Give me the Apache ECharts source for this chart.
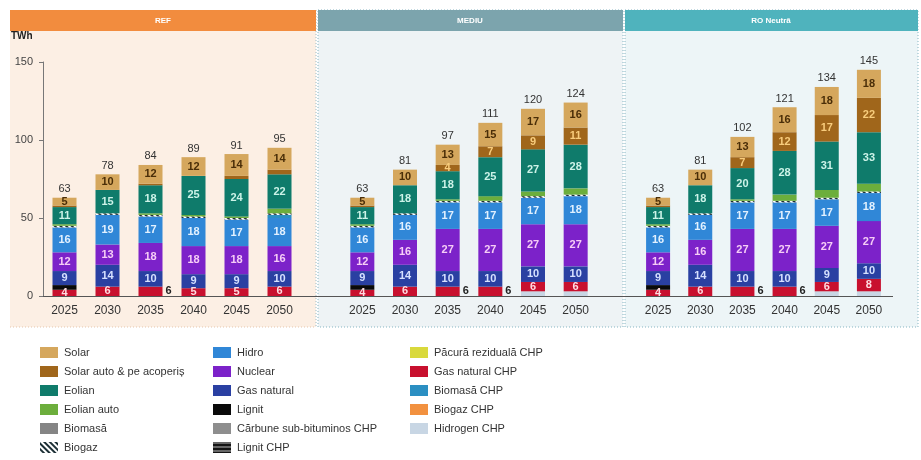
<!DOCTYPE html>
<html>
<head>
<meta charset="utf-8">
<script src="https://cdn.jsdelivr.net/npm/echarts@6/dist/echarts.min.js"></script>
<style>
  html, body { margin: 0; padding: 0; background: #fff; }
  #chart { width: 921px; height: 460px; }
</style>
</head>
<body>
<div id="chart"></div>
<script>
// categorii (ani) si scenarii
const years = ['2025', '2030', '2035', '2040', '2045', '2050'];
const scenarios = ['REF', 'MEDIU', 'RO Neutră'];

// fiecare tablou: un rand pe scenariu (REF, MEDIU, RO Neutră), TWh
const hidrogenCHP   = [[0, 0, 0, 0, 0, 0], [0, 0, 0, 0, 3, 3], [0, 0, 0, 0, 3, 3]];
const gasNaturalCHP = [[4, 6, 6, 5, 5, 6], [4, 6, 6, 6, 6, 6], [4, 6, 6, 6, 6, 8]];
const lignit        = [[3, 0, 0, 0, 0, 0], [3, 0, 0, 0, 0, 0], [3, 0, 0, 0, 0, 0]];
const lignitCHP     = [[0, 0, 0, 0, 0, 0], [0, 0, 0, 0, 0, 0], [0, 0, 0, 0, 0, 0]];
const carbuneCHP    = [[0, 0, 0, 0, 0, 0], [0, 0, 0, 0, 0, 0], [0, 0, 0, 0, 0, 0]];
const pacuraCHP     = [[0, 0, 0, 0, 0, 0], [0, 0, 0, 0, 0, 0], [0, 0, 0, 0, 0, 0]];
const gasNatural    = [[9, 14, 10, 9, 9, 10], [9, 14, 10, 10, 10, 10], [9, 14, 10, 10, 9, 10]];
const nuclear       = [[12, 13, 18, 18, 18, 16], [12, 16, 27, 27, 27, 27], [12, 16, 27, 27, 27, 27]];
const hidro         = [[16, 19, 17, 18, 17, 18], [16, 16, 17, 17, 17, 18], [16, 16, 17, 17, 17, 18]];
const biomasaCHP    = [[0, 0, 0, 0, 0, 2], [0, 0, 0, 0, 0, 0], [0, 0, 0, 0, 0, 0]];
const biomasa       = [[0, 0, 0, 0, 0, 0], [0, 0, 0, 0, 0, 0], [0, 0, 0, 0, 0, 0]];
const biogazCHP     = [[0, 0, 0, 0, 0, 0], [0, 0, 0, 0, 0, 0], [0, 0, 0, 0, 0, 0]];
const biogaz        = [[1, 1, 1, 1, 1, 1], [1, 1, 1, 1, 1, 1], [1, 1, 1, 1, 1, 1]];
const eolianAuto    = [[1, 0, 1, 1, 1, 3], [1, 0, 1, 3, 3, 4], [1, 0, 1, 4, 5, 5]];
const eolian        = [[11, 15, 18, 25, 24, 22], [11, 18, 18, 25, 27, 28], [11, 18, 20, 28, 31, 33]];
const solarAuto     = [[1, 0, 1, 0, 2, 3], [1, 0, 4, 7, 9, 11], [1, 0, 7, 12, 17, 22]];
const solar         = [[5, 10, 12, 12, 14, 14], [5, 10, 13, 15, 17, 16], [5, 10, 13, 16, 18, 18]];

// ani in care eticheta gazului CHP e scrisa in afara barei
const redOutside = [[2], [2, 3], [2, 3]];

const chart = echarts.init(document.getElementById('chart'));

const hatch = { symbol: 'rect', symbolSize: 1, dashArrayX: [1, 0], dashArrayY: [2, 2], rotation: Math.PI / 4, color: '#1c2f35' };
const lines = { symbol: 'rect', symbolSize: 1, dashArrayX: [1, 0], dashArrayY: [2, 2], rotation: 0, color: 'rgba(255,255,255,0.35)' };

// ordinea de jos in sus
const layers = [
  { name: 'Hidrogen CHP', data: hidrogenCHP, color: '#c8d6e4' },
  { name: 'Gas natural CHP', data: gasNaturalCHP, color: '#c8102e', label: '#ffdce2' },
  { name: 'Lignit', data: lignit, color: '#0a0a0a' },
  { name: 'Lignit CHP', data: lignitCHP, color: '#151515', decal: lines },
  { name: 'Cărbune sub-bituminos CHP', data: carbuneCHP, color: '#8e8e8e' },
  { name: 'Păcură reziduală CHP', data: pacuraCHP, color: '#d9d93c' },
  { name: 'Gas natural', data: gasNatural, color: '#2a40a2', label: '#d6e0ff' },
  { name: 'Nuclear', data: nuclear, color: '#7c22c9', label: '#f6cdf6' },
  { name: 'Hidro', data: hidro, color: '#3087d7', label: '#e2f1ff' },
  { name: 'Biomasă CHP', data: biomasaCHP, color: '#2b8fc2' },
  { name: 'Biomasă', data: biomasa, color: '#858585' },
  { name: 'Biogaz CHP', data: biogazCHP, color: '#f2913f' },
  { name: 'Biogaz', data: biogaz, color: '#ffffff', decal: hatch },
  { name: 'Eolian auto', data: eolianAuto, color: '#6cae3c' },
  { name: 'Eolian', data: eolian, color: '#0f7b6b', label: '#cdf3e8' },
  { name: 'Solar auto & pe acoperiș', data: solarAuto, color: '#a0661b', label: '#f8cc7c' },
  { name: 'Solar', data: solar, color: '#d5a75d', label: '#4a2e08' }
];

const grids = [
  { left: 43, top: 62, width: 258, height: 234 },
  { left: 341, top: 62, width: 256, height: 234 },
  { left: 637, top: 62, width: 253, height: 234 }
];

const series = [];
scenarios.forEach((sc, g) => {
  layers.forEach(l => {
    series.push({
      name: l.name,
      type: 'bar',
      xAxisIndex: g,
      yAxisIndex: g,
      stack: 's' + g,
      stackStrategy: 'all',
      barWidth: 24,
      itemStyle: { color: l.color, decal: l.decal },
      label: l.label ? {
        show: true,
        position: 'inside',
        color: l.label,
        fontSize: 11,
        fontWeight: 'bold',
        formatter: p => (p.value >= 4 ? p.value : '')
      } : { show: false },
      data: l.data[g].map((v, i) =>
        l.name === 'Gas natural CHP' && redOutside[g].includes(i)
          ? { value: v, label: { position: 'right', distance: 3, color: '#222' } }
          : v)
    });
  });
  // totaluri deasupra barelor
  const totals = years.map((y, i) => layers.reduce((s, l) => s + l.data[g][i], 0));
  series.push({
    name: 'total',
    type: 'bar',
    xAxisIndex: g,
    yAxisIndex: g,
    stack: 's' + g,
    stackStrategy: 'all',
    barWidth: 24,
    itemStyle: { color: 'transparent' },
    label: {
      show: true,
      position: 'top',
      distance: 3,
      color: '#333',
      fontSize: 11,
      formatter: p => totals[p.dataIndex]
    },
    data: years.map(() => 0)
  });
});

const panelText = (cx, text) => ({
  type: 'text', x: cx, y: 20.5, z: 1,
  style: { text: text, fill: '#fff', font: 'bold 8px Liberation Sans', align: 'center', verticalAlign: 'middle' }
});

const legendBase = {
  orient: 'vertical',
  top: 347,
  itemWidth: 18,
  itemHeight: 11,
  itemGap: 8,
  padding: 0,
  icon: 'rect',
  selectedMode: false,
  textStyle: { fontSize: 11, color: '#333', padding: [0, 0, 0, 1] }
};

const option = {
  animation: false,
  textStyle: { fontFamily: 'Liberation Sans, Arial, sans-serif' },
  grid: grids,
  xAxis: grids.map((gr, g) => ({
    type: 'category',
    gridIndex: g,
    data: years,
    axisLine: { show: false },
    axisTick: { show: false },
    axisLabel: { fontSize: 12, color: '#333', margin: 9 }
  })),
  yAxis: grids.map((gr, g) => ({
    type: 'value',
    gridIndex: g,
    min: 0,
    max: 150,
    interval: 50,
    show: g === 0,
    splitLine: { show: false },
    axisLine: { show: true, lineStyle: { color: '#777' } },
    axisTick: { show: true, length: 4, lineStyle: { color: '#777' } },
    axisLabel: { fontSize: 11, color: '#444', margin: 10 }
  })),
  legend: [
    Object.assign({}, legendBase, { left: 40, data: ['Solar', 'Solar auto & pe acoperiș', 'Eolian', 'Eolian auto', 'Biomasă', 'Biogaz'] }),
    Object.assign({}, legendBase, { left: 213, data: ['Hidro', 'Nuclear', 'Gas natural', 'Lignit', 'Cărbune sub-bituminos CHP', 'Lignit CHP'] }),
    Object.assign({}, legendBase, { left: 410, data: ['Păcură reziduală CHP', 'Gas natural CHP', 'Biomasă CHP', 'Biogaz CHP', 'Hidrogen CHP'] })
  ],
  graphic: [
    // fundaluri panouri
    { type: 'rect', z: -2, shape: { x: 10, y: 10, width: 306, height: 317 }, style: { fill: '#fcefe4' } },
    { type: 'rect', z: -2, shape: { x: 318, y: 10, width: 305, height: 317 }, style: { fill: '#eef3f5', stroke: '#86b5c2', lineWidth: 1, lineDash: [1, 2] } },
    { type: 'rect', z: -2, shape: { x: 625, y: 10, width: 293, height: 317 }, style: { fill: '#edf5f7', stroke: '#86b5c2', lineWidth: 1, lineDash: [1, 2] } },
    { type: 'line', z: -1, shape: { x1: 316, y1: 10, x2: 316, y2: 327 }, style: { stroke: '#9bbcc6', lineWidth: 1, lineDash: [1, 2] } },
    { type: 'line', z: -1, shape: { x1: 10, y1: 327, x2: 316, y2: 327 }, style: { stroke: '#e6c6ad', lineWidth: 1, lineDash: [1, 2] } },
    // antete
    { type: 'rect', z: -1, shape: { x: 10, y: 10, width: 306, height: 21 }, style: { fill: '#f28c3e' } },
    { type: 'rect', z: -1, shape: { x: 318, y: 10, width: 305, height: 21 }, style: { fill: '#7ca4ad' } },
    { type: 'rect', z: -1, shape: { x: 625, y: 10, width: 293, height: 21 }, style: { fill: '#4fb3bd' } },
    panelText(163, 'REF'),
    panelText(470, 'MEDIU'),
    panelText(771, 'RO Neutră'),
    // unitate si axa orizontala comuna
    { type: 'text', left: 11, top: 31, style: { text: 'TWh', fill: '#222', font: 'bold 10px Liberation Sans' } },
    { type: 'line', z: 5, shape: { x1: 43, y1: 296.5, x2: 893, y2: 296.5 }, style: { stroke: '#555', lineWidth: 1 } }
  ],
  series: series
};

chart.setOption(option);
</script>
</body>
</html>
